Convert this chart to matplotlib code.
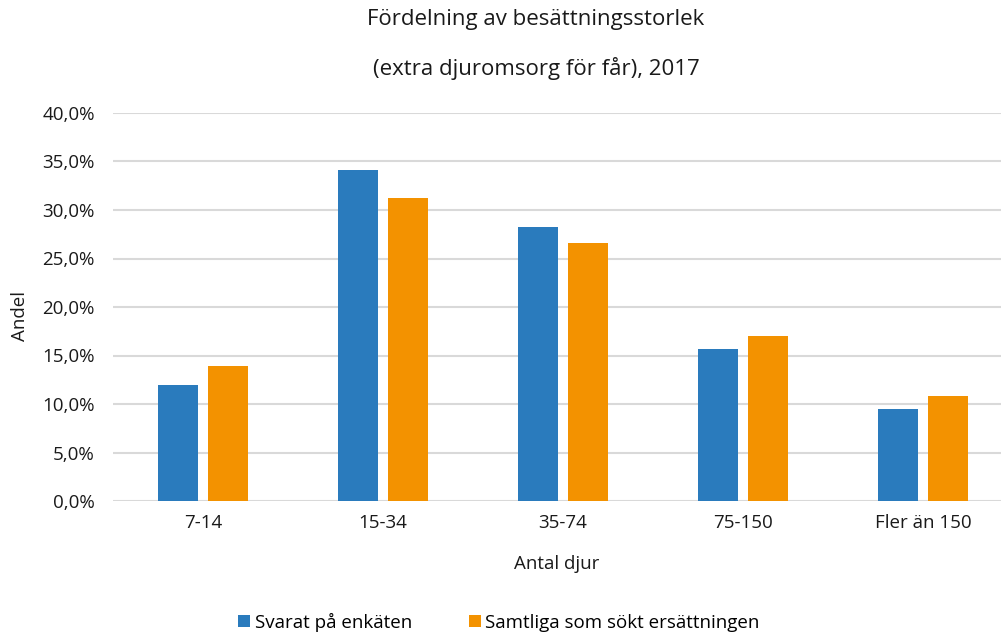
import matplotlib
matplotlib.use("Agg")
import matplotlib.pyplot as plt
import numpy as np
from matplotlib.ticker import FuncFormatter, MultipleLocator

categories = ["7-14", "15-34", "35-74", "75-150", "Fler än 150"]
svarat = [12.0, 34.1, 28.2, 15.7, 9.5]
samtliga = [13.9, 31.2, 26.6, 17.0, 10.8]
series_names = ["Svarat på enkäten", "Samtliga som sökt ersättningen"]
title_lines = ["Fördelning av besättningsstorlek", "(extra djuromsorg för får), 2017"]

plt.rcParams['font.family'] = ['Open Sans', 'DejaVu Sans']

W, H = 1001, 634
fig = plt.figure(figsize=(W/100, H/100), dpi=100)
ax = fig.add_axes([113/W, 1-501/H, (W-113)/W, (501-113)/H])

x = np.arange(len(categories))
bw = 40/180
off = 25/180
blue = "#2A7BBD"
orange = "#F39200"
b1 = ax.bar(x - off, svarat, bw, color=blue, label=series_names[0], zorder=3)
b2 = ax.bar(x + off, samtliga, bw, color=orange, label=series_names[1], zorder=3)

ax.set_xlim(-0.5, -0.5 + (W-113)/180)
ax.set_ylim(0, 40)
ax.yaxis.set_major_locator(MultipleLocator(5))
ax.yaxis.set_major_formatter(FuncFormatter(lambda v, p: f"{v:.1f}%".replace(".", ",")))
ax.grid(axis='y', color='#D9D9D9', linewidth=1.5, zorder=0)
for s in ax.spines.values():
    s.set_visible(False)
ax.tick_params(axis='both', length=0, labelsize=13.5, colors='#1a1a1a')
ax.tick_params(axis='y', pad=13)
ax.tick_params(axis='x', pad=9)
ax.set_xticks(x)
ax.set_xticklabels(categories)
ax.set_xlabel("Antal djur", fontsize=13.5, labelpad=17, color='#1a1a1a')
fig.text(20/W, 1-316/H, "Andel", rotation=90, fontsize=13.5, ha='center', va='center', color='#1a1a1a')

fig.text(536/W, 1-20/H, title_lines[0], fontsize=16, ha='center', va='center', color='#1a1a1a')
fig.text(536/W, 1-68/H, title_lines[1], fontsize=16, ha='center', va='center', color='#1a1a1a')

fig.legend(handles=[b1, b2], loc='center', bbox_to_anchor=(499/W, 1-622/H), ncol=2,
           frameon=False, fontsize=13.5, handlelength=0.65, handleheight=0.65,
           handletextpad=0.25, columnspacing=3.0)

fig.savefig("out.png", dpi=100)
